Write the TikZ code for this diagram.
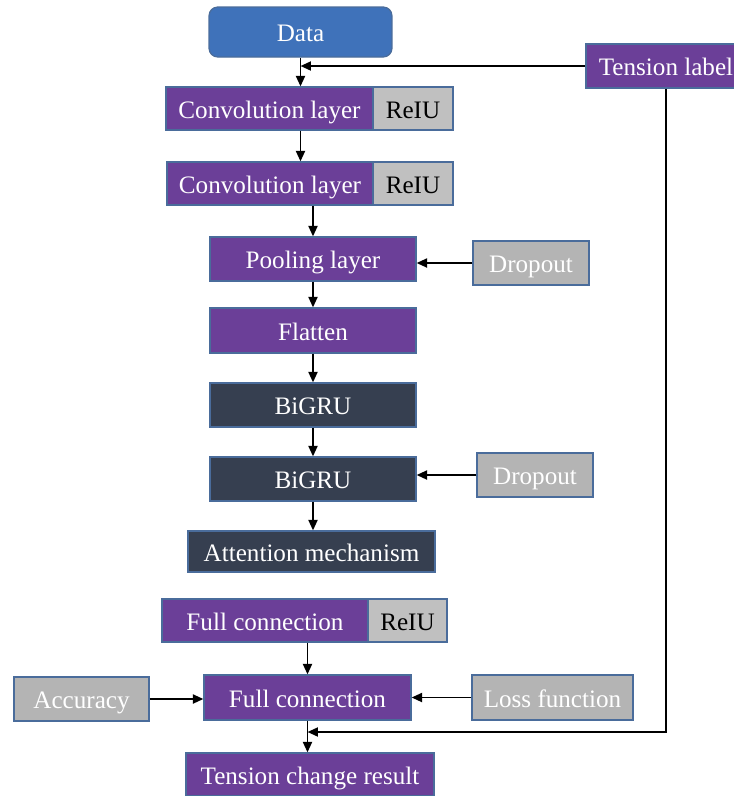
\documentclass[tikz,border=0pt]{standalone}
\usepackage{fontspec}
\setmainfont{Liberation Serif}
\usetikzlibrary{arrows.meta}
\definecolor{layerpurple}{HTML}{6B3F98}
\definecolor{grudark}{HTML}{363F50}
\definecolor{datablue}{HTML}{3F72BA}
\definecolor{relugray}{HTML}{C0C0C0}
\definecolor{auxgray}{HTML}{B4B4B4}
\definecolor{edgeblue}{HTML}{4A6C9B}
\begin{document}
\begin{tikzpicture}[x=0.02cm,y=-0.02cm,font=\fontsize{14.3}{17}\selectfont,
  blk/.style={draw=edgeblue,line width=0.7pt,inner sep=0pt,text=white,minimum height=0.88cm,
    text height=11pt,text depth=0pt},
  layer/.style={blk,fill=layerpurple},
  rnn/.style={blk,fill=grudark},
  relu/.style={blk,fill=relugray,text=black,minimum width=1.6cm},
  aux/.style={blk,fill=auxgray},
  flow/.style={line width=1.1pt,-{Triangle[length=2.1mm,width=1.8mm]}}]
  \useasboundingbox (0,0) rectangle (734,796);
  \node[blk,fill=datablue,rounded corners=5pt,minimum width=3.66cm,minimum height=1cm] (data) at (300.5,32) {Data};
  \node[layer,minimum width=3.2cm] (tension) at (666,66) {Tension label};
  \node[layer,minimum width=4.14cm,minimum height=0.86cm] (conv1) at (269.5,108.5) {Convolution layer};
  \node[relu,minimum height=0.86cm] (relu1) at (413,108.5) {ReIU};
  \node[layer,minimum width=4.12cm,minimum height=0.86cm] (conv2) at (270,183.5) {Convolution layer};
  \node[relu,minimum height=0.86cm] (relu2) at (413,183.5) {ReIU};
  \node[layer,minimum width=4.12cm] (pool) at (313,259) {Pooling layer};
  \node[aux,minimum width=2.32cm] (drop1) at (531,263) {Dropout};
  \node[layer,minimum width=4.12cm,minimum height=0.9cm] (flat) at (313,330.5) {Flatten};
  \node[rnn,minimum width=4.12cm] (gru1) at (313,405) {BiGRU};
  \node[rnn,minimum width=4.12cm] (gru2) at (313,479) {BiGRU};
  \node[aux,minimum width=2.32cm] (drop2) at (535,475) {Dropout};
  \node[rnn,minimum width=4.94cm,minimum height=0.82cm] (att) at (311.5,551.5) {Attention mechanism};
  \node[layer,minimum width=4.12cm,minimum height=0.86cm] (fc1) at (265,620.5) {Full connection};
  \node[relu,minimum width=1.58cm,minimum height=0.86cm] (relu3) at (407.5,620.5) {ReIU};
  \node[layer,minimum width=4.14cm,minimum height=0.9cm] (fc2) at (307.5,697.5) {Full connection};
  \node[aux,minimum width=2.7cm] (acc) at (81.5,699) {Accuracy};
  \node[aux,minimum width=3.22cm,minimum height=0.9cm] (loss) at (552.5,697.5) {Loss function};
  \node[layer,minimum width=4.96cm,minimum height=0.86cm] (result) at (310,774.5) {Tension change result};
  % main flow
  \draw[flow] (data.south) -- (data.south |- conv1.north);
  \draw[flow] (tension.west) -- (tension.west -| data.south);
  \draw[flow] (conv1.south -| data.south) -- (data.south |- conv2.north);
  \draw[flow] (pool.north |- conv2.south) -- (pool.north);
  \foreach \a/\b in {pool/flat,flat/gru1,gru1/gru2} \draw[flow] (\a.south) -- (\b.north);
  \draw[flow] (gru2.south) -- (gru2.south |- att.north);
  \draw[flow] (fc2.north |- fc1.south) -- (fc2.north);
  \draw[flow] (fc2.south) -- (fc2.south |- result.north);
  % side inputs
  \draw[flow] (drop1.west) -- (drop1.west -| pool.east);
  \draw[flow] (drop2.west) -- (drop2.west -| gru2.east);
  \draw[flow] (acc.east) -- (acc.east -| fc2.west);
  \draw[flow] (loss.west) -- (loss.west -| fc2.east);
  \coordinate (merge) at (fc2.south |- 0,732);
  \draw[flow] (tension.south) |- (merge);
\end{tikzpicture}
\end{document}
